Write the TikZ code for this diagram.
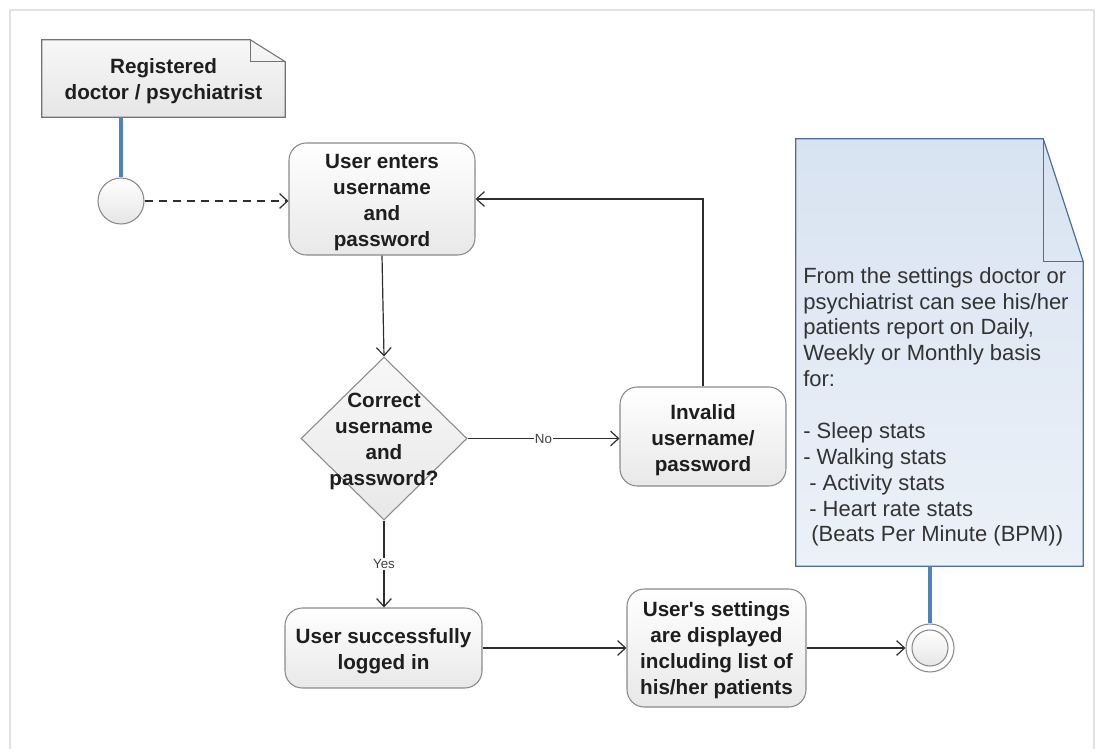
\documentclass[tikz,border=0pt]{standalone}
\usepackage{fontspec}
\setmainfont{Liberation Sans}
\usetikzlibrary{shapes.geometric,arrows.meta,calc}

\definecolor{edge}{HTML}{2E2E2E}
\definecolor{boxline}{HTML}{8A8A8A}
\definecolor{ink}{HTML}{1E1E1E}
\definecolor{notetext}{HTML}{333333}
\definecolor{notetop}{HTML}{D8E3F1}
\definecolor{notebottom}{HTML}{ECF1F8}
\definecolor{noteline}{HTML}{4F6D9E}
\definecolor{linkblue}{HTML}{4F81BD}
\definecolor{framegray}{HTML}{E2E2E2}

\tikzset{
  boldtext/.style={font=\bfseries\fontsize{15.5}{19.5}\selectfont, text=ink, align=center,
                   inner sep=0pt},
  act/.style={draw=boxline, line width=0.8pt, rounded corners=13pt,
              top color=white, bottom color=black!9, inner sep=0pt},
  decision/.style={diamond, draw=boxline, line width=0.8pt, top color=black!3,
                   bottom color=black!9, inner sep=0pt, aspect=1},
  initial/.style={circle, draw=boxline, line width=0.8pt, top color=white,
                  bottom color=black!10, inner sep=0pt, minimum size=34.5pt},
  finalring/.style={circle, draw=boxline, line width=0.8pt, fill=white,
                    inner sep=0pt, minimum size=36pt},
  finalcore/.style={circle, draw=boxline, line width=0.8pt, top color=white,
                    bottom color=black!10, inner sep=0pt, minimum size=27pt},
  flow/.style={draw=edge, line width=0.9pt, -{Straight Barb[length=6pt,width=11pt]}},
  dashflow/.style={flow, dash pattern=on 6pt off 4.5pt},
  link/.style={draw=linkblue, line width=2.3pt},
  lbl/.style={fill=white, inner sep=1pt, text=black!75,
              font=\fontsize{10}{12}\selectfont},
  grayfold/.style={draw=black!55, line width=0.8pt, top color=black!3, bottom color=black!10},
  bluefold/.style={draw=noteline, line width=0.9pt, top color=notetop, bottom color=notebottom},
}

\begin{document}
\begin{tikzpicture}[x=0.75pt,y=-0.75pt]
\useasboundingbox (0,0) rectangle (1097,749);

% page frame
\draw[framegray, line width=1.5pt] (10,749) -- (10,10) -- (1094,10) -- (1094,749);

% actor note
\node[minimum width=182.25pt, minimum height=57.75pt, inner sep=0pt] (actor) at (163.5,78.5) {};
\path[grayfold] (actor.north west) -- ($(actor.north east)+(-35,0)$)
  -- ($(actor.north east)+(0,22)$) -- (actor.south east) -- (actor.south west) -- cycle;
\draw[black!55, line width=0.8pt] ($(actor.north east)+(-35,0)$) -- ($(actor.north east)+(-35,22)$)
  -- ($(actor.north east)+(0,22)$);
\node[boldtext] at ($(actor)+(0,3)$) {Registered\\doctor / psychiatrist};

% settings note
\node[minimum width=215.25pt, minimum height=320.25pt, inner sep=0pt] (info) at (939.5,352.5) {};
\path[bluefold] (info.north west) -- ($(info.north east)+(-40,0)$)
  -- ($(info.north east)+(0,123)$) -- (info.south east) -- (info.south west) -- cycle;
\draw[noteline, line width=0.9pt] ($(info.north east)+(-40,0)$) -- ($(info.north east)+(-40,123)$)
  -- ($(info.north east)+(0,123)$);
\node[anchor=north west, inner sep=0pt, align=left, text=notetext,
      font=\fontsize{16.5}{19.4}\selectfont] (infotext) at (803,267)
  {From the settings doctor or\\
   psychiatrist can see his/her\\
   patients report on Daily,\\
   Weekly or Monthly basis\\
   for:\\[19.4pt]
   - Sleep stats\\
   - Walking stats\\
   \hspace*{4.5pt}- Activity stats\\
   \hspace*{4.5pt}- Heart rate stats\\
   \hspace*{6pt}(Beats Per Minute (BPM))};

% activity shapes
\node[initial] (start) at (121,201) {};
\node[act, minimum width=139.5pt, minimum height=84pt] (enter) at (382,199) {};
\node[decision, minimum width=124.5pt, minimum height=122.25pt] (check) at (384,438.5) {};
\node[act, minimum width=124.5pt, minimum height=74.25pt] (invalid) at (703,436.5) {};
\node[act, minimum width=147.75pt, minimum height=60pt] (loggedin) at (383.5,648) {};
\node[act, minimum width=134.25pt, minimum height=88.5pt] (shown) at (716.5,648) {};
\node[finalring] (final) at (930,648) {};
\node[finalcore] (finalin) at (final) {};

% activity texts
\node[boldtext] at ($(enter)+(0,3.5)$) {User enters\\username\\and\\password};
\node[boldtext] at ($(check)+(0,2.5)$) {Correct\\username\\and\\password?};
\node[boldtext] at ($(invalid)+(0,4)$) {Invalid\\username/\\password};
\node[boldtext] at ($(loggedin)+(0,3)$) {User successfully\\logged in};
\node[boldtext] at ($(shown)+(0,2.5)$)
  {User\textquotesingle s settings\\are displayed\\including list of\\his/her patients};

% note attachments
\draw[link] (start.north) -- (start.north |- actor.south);
\draw[link] (final.north) -- (final.north |- info.south);

% flow
\draw[dashflow] (start.east) -- (start.east -| enter.west);
\draw[flow] (enter.south) -- (check.north);
\draw[flow] (check.east) -- node[lbl] {No} (check.east -| invalid.west);
\draw[flow] (invalid.north) |- (enter.east);
\draw[flow] (check.south) -- node[lbl] {Yes} (check.south |- loggedin.north);
\draw[flow] (loggedin.east) -- (shown.west);
\draw[flow] (shown.east) -- (final.west);
\end{tikzpicture}
\end{document}
